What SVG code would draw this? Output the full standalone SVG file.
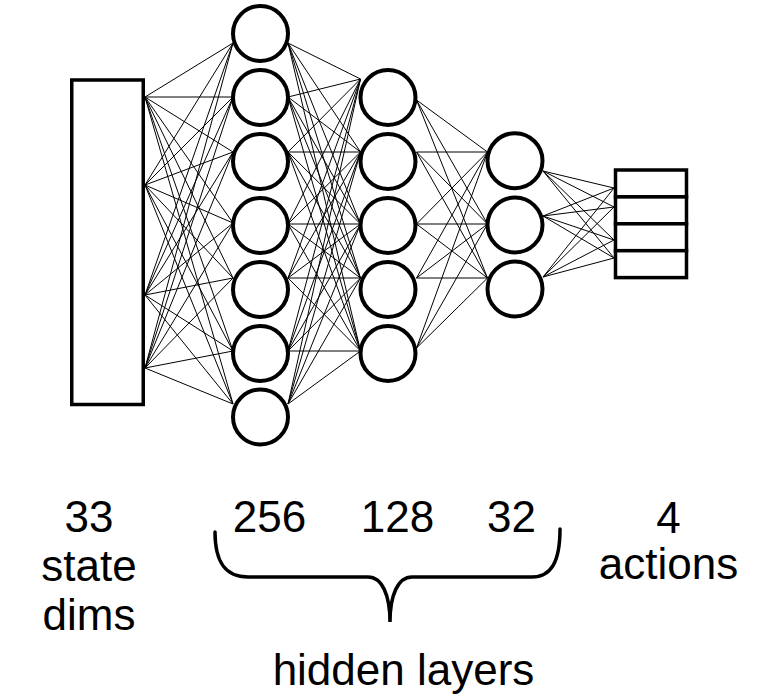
<svg xmlns="http://www.w3.org/2000/svg" width="758" height="696" viewBox="0 0 758 696">
<style>
.box{fill:#fff;stroke:#000;stroke-width:3.5}
.node{fill:#fff;stroke:#000;stroke-width:4}
.edge{fill:none;stroke:#000;stroke-width:1}
.lbl{font-family:"Liberation Sans",Arial,sans-serif;font-size:44px;fill:#000;text-anchor:middle}
.brace{fill:none;stroke:#000;stroke-width:3.5;stroke-linecap:round}
</style>
<rect width="758" height="696" fill="#fff"/>
<g id="connectors">
<path class="edge" d="M145 97L233 43M145 97L233 97M145 97L233 152M145 97L233 223M145 97L233 278M145 97L233 351M145 97L233 404"/>
<path class="edge" d="M145 185L233 43M145 185L233 97M145 185L233 152M145 185L233 223M145 185L233 278M145 185L233 351M145 185L233 404"/>
<path class="edge" d="M145 295L233 43M145 295L233 97M145 295L233 152M145 295L233 223M145 295L233 278M145 295L233 351M145 295L233 404"/>
<path class="edge" d="M145 368L233 43M145 368L233 97M145 368L233 152M145 368L233 223M145 368L233 278M145 368L233 351M145 368L233 404"/>
<path class="edge" d="M288 43L360.5 79M288 43L360.5 152M288 43L360.5 224M288 43L360.5 278M288 43L360.5 351"/>
<path class="edge" d="M288 97L360.5 79M288 97L360.5 152M288 97L360.5 224M288 97L360.5 278M288 97L360.5 351"/>
<path class="edge" d="M288 152L360.5 79M288 152L360.5 152M288 152L360.5 224M288 152L360.5 278M288 152L360.5 351"/>
<path class="edge" d="M288 224L360.5 79M288 224L360.5 152M288 224L360.5 224M288 224L360.5 278M288 224L360.5 351"/>
<path class="edge" d="M288 278L360.5 79M288 278L360.5 152M288 278L360.5 224M288 278L360.5 278M288 278L360.5 351"/>
<path class="edge" d="M288 351L360.5 79M288 351L360.5 152M288 351L360.5 224M288 351L360.5 278M288 351L360.5 351"/>
<path class="edge" d="M288 404L360.5 79M288 404L360.5 152M288 404L360.5 224M288 404L360.5 278M288 404L360.5 351"/>
<path class="edge" d="M416.5 100L487.5 152M416.5 100L487.5 224M416.5 100L487.5 278"/>
<path class="edge" d="M416.5 152L487.5 152M416.5 152L487.5 224M416.5 152L487.5 278"/>
<path class="edge" d="M416.5 224L487.5 152M416.5 224L487.5 224M416.5 224L487.5 278"/>
<path class="edge" d="M416.5 278L487.5 152M416.5 278L487.5 224M416.5 278L487.5 278"/>
<path class="edge" d="M416.5 348L487.5 152M416.5 348L487.5 224M416.5 348L487.5 278"/>
<path class="edge" d="M543 171L614 188M543 171L614 207M543 171L614 240M543 171L614 258"/>
<path class="edge" d="M543 216L614 188M543 216L614 207M543 216L614 240M543 216L614 258"/>
<path class="edge" d="M543 277L614 188M543 277L614 207M543 277L614 240M543 277L614 258"/>
</g>
<g id="input"><rect class="box" x="71.75" y="80" width="71.5" height="324.5"/></g>
<g id="h1-1"><circle class="node" cx="260.5" cy="33.5" r="27.5"/></g>
<g id="h1-2"><circle class="node" cx="260.5" cy="97.5" r="27.5"/></g>
<g id="h1-3"><circle class="node" cx="260.5" cy="161.5" r="27.5"/></g>
<g id="h1-4"><circle class="node" cx="260.5" cy="225.5" r="27.5"/></g>
<g id="h1-5"><circle class="node" cx="260.5" cy="289.5" r="27.5"/></g>
<g id="h1-6"><circle class="node" cx="260.5" cy="353.5" r="27.5"/></g>
<g id="h1-7"><circle class="node" cx="260.5" cy="417" r="27.5"/></g>
<g id="h2-1"><circle class="node" cx="388" cy="97.5" r="27.5"/></g>
<g id="h2-2"><circle class="node" cx="388" cy="161.5" r="27.5"/></g>
<g id="h2-3"><circle class="node" cx="388" cy="225.5" r="27.5"/></g>
<g id="h2-4"><circle class="node" cx="388" cy="289.5" r="27.5"/></g>
<g id="h2-5"><circle class="node" cx="388" cy="353.5" r="27.5"/></g>
<g id="h3-1"><circle class="node" cx="515" cy="160.7" r="27.5"/></g>
<g id="h3-2"><circle class="node" cx="515" cy="225" r="27.5"/></g>
<g id="h3-3"><circle class="node" cx="515" cy="289" r="27.5"/></g>
<g id="output">
<rect class="box" x="615.5" y="170" width="71" height="26.9"/>
<rect class="box" x="615.5" y="196.9" width="71" height="26.9"/>
<rect class="box" x="615.5" y="223.8" width="71" height="26.9"/>
<rect class="box" x="615.5" y="250.7" width="71" height="26.9"/>
</g>
<g id="labels">
<text class="lbl" x="89" y="532">33</text>
<text class="lbl" x="89" y="580.5">state</text>
<text class="lbl" x="89" y="630">dims</text>
<text class="lbl" x="269.5" y="532">256</text>
<text class="lbl" x="397.5" y="532">128</text>
<text class="lbl" x="511.5" y="532">32</text>
<text class="lbl" x="668.5" y="532.5">4</text>
<text class="lbl" x="668.5" y="579">actions</text>
<text class="lbl" x="403.5" y="685">hidden layers</text>
</g>
<g id="brace">
<path class="brace" d="M215 532C215 562 225 577 248 577L368 577C382 577 390 595 390 622C390 595 398 577 412 577L532 577C551 577 560 562 560 529"/>
</g>
</svg>
